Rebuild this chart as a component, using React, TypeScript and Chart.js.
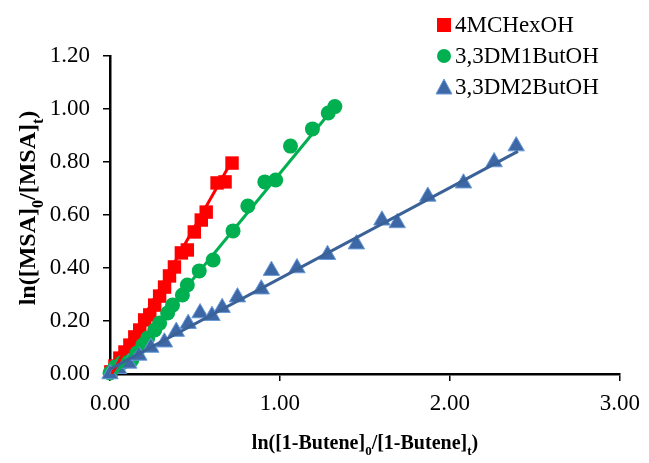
import React, { useEffect, useRef } from "react";
import { Chart, registerables } from "chart.js";

Chart.register(...registerables);

const seriesNames = ["4MCHexOH", "3,3DM1ButOH", "3,3DM2ButOH"];

const redX = [0.005, 0.029, 0.058, 0.088, 0.117, 0.146, 0.175, 0.204, 0.234, 0.263, 0.292, 0.321, 0.35, 0.379, 0.42, 0.455, 0.496, 0.537, 0.566, 0.63, 0.677, 0.718];
const redY = [0.008, 0.03, 0.06, 0.083, 0.109, 0.14, 0.166, 0.204, 0.223, 0.26, 0.294, 0.328, 0.37, 0.404, 0.457, 0.468, 0.536, 0.581, 0.611, 0.721, 0.725, 0.796];

const greenX = [0.0, 0.029, 0.07, 0.128, 0.158, 0.193, 0.222, 0.263, 0.292, 0.339, 0.368, 0.426, 0.455, 0.525, 0.607, 0.724, 0.811, 0.911, 0.975, 1.062, 1.191, 1.284, 1.323];
const greenY = [0.004, 0.026, 0.042, 0.053, 0.079, 0.109, 0.136, 0.166, 0.192, 0.23, 0.26, 0.298, 0.336, 0.389, 0.43, 0.54, 0.634, 0.725, 0.732, 0.86, 0.925, 0.985, 1.009];

const blueX = [0.0, 0.05, 0.11, 0.17, 0.24, 0.32, 0.39, 0.46, 0.53, 0.6, 0.66, 0.75, 0.89, 0.95, 1.1, 1.28, 1.45, 1.6, 1.69, 1.87, 2.08, 2.26, 2.39];
const blueY = [0.0, 0.02, 0.04, 0.07, 0.1, 0.12, 0.16, 0.19, 0.23, 0.22, 0.25, 0.29, 0.32, 0.39, 0.4, 0.45, 0.49, 0.58, 0.57, 0.67, 0.72, 0.8, 0.86];

const redFitX = [0.01, 0.7];
const redFitY = [0.0, 0.785];
const greenFitX = [0.03, 1.33];
const greenFitY = [0.0, 1.015];
const blueFitX = [0.0, 2.4];
const blueFitY = [0.018, 0.84];

const xTickValues = [0, 1, 2, 3];
const yTickValues = [0, 0.2, 0.4, 0.6, 0.8, 1.0, 1.2];

const RED = "#FF0000";
const GREEN = "#00B050";
const BLUE_FILL = "#3D68A5";
const BLUE_EDGE = "#6A9AD8";
const BLUE_LINE = "#3A6198";

const SERIF = "'Liberation Serif', 'Times New Roman', serif";

const toPts = (xs: number[], ys: number[]) => xs.map((x, i) => ({ x, y: ys[i] }));

type Seg = { t: string; sub?: boolean };
const yTitle: Seg[] = [
  { t: "ln([MSA]" },
  { t: "0", sub: true },
  { t: "/[MSA]" },
  { t: "t", sub: true },
  { t: ")" },
];
const xTitle: Seg[] = [
  { t: "ln([1-Butene]" },
  { t: "0", sub: true },
  { t: "/[1-Butene]" },
  { t: "t", sub: true },
  { t: ")" },
];

function drawSegs(ctx: CanvasRenderingContext2D, segs: Seg[], size: number) {
  const main = `bold ${size}px ${SERIF}`;
  const sub = `bold ${Math.round(size * 0.65)}px ${SERIF}`;
  let w = 0;
  for (const s of segs) {
    ctx.font = s.sub ? sub : main;
    w += ctx.measureText(s.t).width;
  }
  let x = -w / 2;
  ctx.textBaseline = "alphabetic";
  ctx.textAlign = "left";
  for (const s of segs) {
    ctx.font = s.sub ? sub : main;
    ctx.fillText(s.t, x, s.sub ? size * 0.32 + size * 0.33 : size * 0.33);
    x += ctx.measureText(s.t).width;
  }
}

const overlayPlugin = {
  id: "overlay",
  afterDraw(chart: any) {
    const ctx: CanvasRenderingContext2D = chart.ctx;
    ctx.save();
    ctx.fillStyle = "#000";
    // x title
    ctx.save();
    ctx.translate(365, 442);
    drawSegs(ctx, xTitle, 20);
    ctx.restore();
    // y title
    ctx.save();
    ctx.translate(27, 208);
    ctx.rotate(-Math.PI / 2);
    drawSegs(ctx, yTitle, 24);
    ctx.restore();

    // legend
    const rows = [25, 56, 87];
    const mx = 444;
    const tx = 455;
    ctx.font = `23px ${SERIF}`;
    ctx.textBaseline = "middle";
    ctx.textAlign = "left";
    seriesNames.forEach((name, i) => {
      const y = rows[i];
      if (i === 0) {
        ctx.fillStyle = RED;
        ctx.fillRect(mx - 7, y - 7, 14, 14);
      } else if (i === 1) {
        ctx.fillStyle = GREEN;
        ctx.beginPath();
        ctx.arc(mx, y, 7, 0, Math.PI * 2);
        ctx.fill();
      } else {
        ctx.fillStyle = BLUE_FILL;
        ctx.strokeStyle = BLUE_EDGE;
        ctx.lineWidth = 1;
        ctx.beginPath();
        ctx.moveTo(mx, y - 8);
        ctx.lineTo(mx + 8, y + 7);
        ctx.lineTo(mx - 8, y + 7);
        ctx.closePath();
        ctx.fill();
        ctx.stroke();
      }
      ctx.fillStyle = "#000";
      ctx.fillText(name, tx, y + 1);
    });
    ctx.restore();
  },
};

export default function App() {
  const ref = useRef<HTMLCanvasElement | null>(null);

  useEffect(() => {
    document.body.style.margin = "0";
    const canvas = ref.current;
    if (!canvas) return;
    const chart = new Chart(canvas, {
      type: "scatter",
      data: {
        datasets: [
          {
            label: "blueFit",
            data: toPts(blueFitX, blueFitY),
            showLine: true,
            borderColor: BLUE_LINE,
            borderWidth: 3,
            pointRadius: 0,
            order: 1,
          } as any,
          {
            label: "greenFit",
            data: toPts(greenFitX, greenFitY),
            showLine: true,
            borderColor: GREEN,
            borderWidth: 3,
            pointRadius: 0,
            order: 2,
          },
          {
            label: "redFit",
            data: toPts(redFitX, redFitY),
            showLine: true,
            borderColor: RED,
            borderWidth: 3,
            pointRadius: 0,
            order: 3,
          },
          {
            label: seriesNames[2],
            data: toPts(blueX, blueY),
            pointStyle: "triangle",
            pointRadius: 9.5,
            backgroundColor: BLUE_FILL,
            borderColor: BLUE_EDGE,
            borderWidth: 1,
            clip: false,
            order: 4,
          },
          {
            label: seriesNames[1],
            data: toPts(greenX, greenY),
            pointStyle: "circle",
            pointRadius: 7.5,
            backgroundColor: GREEN,
            borderColor: GREEN,
            borderWidth: 0,
            clip: false,
            order: 5,
          },
          {
            label: seriesNames[0],
            data: toPts(redX, redY),
            pointStyle: "rect",
            pointRadius: 9.5,
            backgroundColor: RED,
            borderColor: RED,
            borderWidth: 0,
            clip: false,
            order: 6,
          },
        ],
      },
      options: {
        animation: false,
        responsive: false,
        maintainAspectRatio: false,
        layout: { padding: { top: 56, right: 26, left: 0, bottom: 0 } },
        plugins: {
          legend: { display: false },
          tooltip: { enabled: false },
          title: { display: false },
        },
        scales: {
          x: {
            type: "linear",
            min: 0,
            max: 3,
            afterFit: (s: any) => {
              s.height = 89;
            },
            afterBuildTicks: (s: any) => {
              s.ticks = xTickValues.map((v) => ({ value: v }));
            },
            ticks: {
              callback: (v: any) => Number(v).toFixed(2),
              font: { family: SERIF, size: 23 },
              color: "#000",
              padding: 9,
            },
            grid: {
              display: true,
              drawOnChartArea: false,
              drawTicks: true,
              tickLength: 7,
              color: "#000",
              lineWidth: 1.5,
            },
            border: { display: true, color: "#000", width: 2.5 },
          },
          y: {
            type: "linear",
            min: 0,
            max: 1.2,
            afterFit: (s: any) => {
              s.width = 110;
            },
            afterBuildTicks: (s: any) => {
              s.ticks = yTickValues.map((v) => ({ value: v }));
            },
            ticks: {
              callback: (v: any) => Number(v).toFixed(2),
              font: { family: SERIF, size: 23 },
              color: "#000",
              padding: 13,
            },
            grid: {
              display: true,
              drawOnChartArea: false,
              drawTicks: true,
              tickLength: 7,
              color: "#000",
              lineWidth: 1.5,
            },
            border: { display: true, color: "#000", width: 2.5 },
          },
        },
      },
      plugins: [overlayPlugin],
    });
    return () => chart.destroy();
  }, []);

  return (
    <div style={{ width: 649, height: 463, background: "#fff" }}>
      <canvas ref={ref} width={649} height={463} style={{ display: "block" }} />
    </div>
  );
}
